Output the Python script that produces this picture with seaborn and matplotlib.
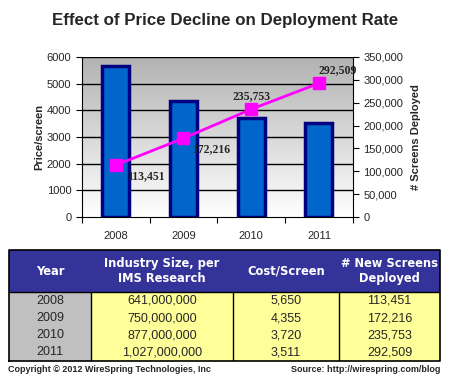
import numpy as np
import pandas as pd
import seaborn as sns
import matplotlib.pyplot as plt

# Data
years = ["2008", "2009", "2010", "2011"]
industry_size = ["641,000,000", "750,000,000", "877,000,000", "1,027,000,000"]
cost_per_screen = [5650, 4355, 3720, 3511]
new_screens = [113451, 172216, 235753, 292509]
headers = ["Year", "Industry Size, per\nIMS Research", "Cost/Screen", "# New Screens\nDeployed"]

df = pd.DataFrame({"year": years, "cost": cost_per_screen, "screens": new_screens})

sns.set_style("white")
plt.rcParams["font.family"] = ["Liberation Sans", "DejaVu Sans"]

fig = plt.figure(figsize=(4.5, 3.8), dpi=100)
fig.text(0.5, 0.945, "Effect of Price Decline on Deployment Rate",
         ha="center", va="center", fontsize=12.2, fontweight="bold")

# Chart
ax = fig.add_axes([0.182, 0.429, 0.602, 0.421])

# gray-to-white gradient background
shade = np.linspace(0.70, 1.0, 256)
grad = np.dstack([shade, shade, shade]).reshape(256, 1, 3)
ax.imshow(grad, extent=[-0.5, 3.5, 0, 6000], aspect="auto", origin="upper", zorder=0)

for yv in range(1000, 7000, 1000):
    ax.axhline(yv, color="black", lw=1, zorder=1)

sns.barplot(data=df, x="year", y="cost", color="#0066CC", width=0.4,
            edgecolor="#000080", linewidth=2.5, saturation=1, ax=ax, zorder=2)
ax.set_xlim(-0.5, 3.5)
ax.set_ylim(0, 6000)
ax.set_yticks(range(0, 7000, 1000))
ax.set_xlabel("")
ax.set_ylabel("Price/screen", fontsize=8, fontweight="bold", labelpad=2)
ax.set_xticks([-0.5, 0.5, 1.5, 2.5, 3.5])
ax.set_xticklabels([])
ax.set_xticks(range(4), minor=True)
ax.set_xticklabels(years, minor=True)
ax.tick_params(axis="x", which="minor", length=0, labelsize=8, pad=10)
ax.tick_params(axis="x", which="major", length=4, direction="out", bottom=True, color="black")
ax.tick_params(axis="y", length=4, direction="out", left=True, labelsize=8, color="black")
for s in ["top", "right"]:
    ax.spines[s].set_visible(False)
ax.spines["left"].set_color("black")
ax.spines["bottom"].set_color("black")

ax2 = ax.twinx()
ax2.set_ylim(0, 350000)
ax2.plot(range(4), df["screens"], color="#FF00FF", lw=2, marker="s",
         markersize=9, zorder=5)
ax2.set_yticks(range(0, 400000, 50000))
ax2.set_yticklabels([f"{v:,}" for v in range(0, 400000, 50000)])
ax2.tick_params(axis="y", length=4, direction="out", right=True, labelsize=8, color="black")
ax2.set_ylabel("# Screens Deployed", fontsize=8, fontweight="bold", labelpad=6)
for s in ["top", "left", "bottom"]:
    ax2.spines[s].set_visible(False)
ax2.spines["right"].set_color("black")

offsets = [(8, -8, "left", "center"), (6, -8, "left", "center"),
           (0, 5, "center", "bottom"), (0, 5, "left", "bottom")]
for i, v in enumerate(new_screens):
    dx, dy, ha, va = offsets[i]
    ax2.annotate(f"{v:,}", (i, v), xytext=(dx, dy), textcoords="offset points",
                 ha=ha, va=va, fontsize=8.5, fontweight="bold",
                 family="Liberation Serif", zorder=6)

# Table
tax = fig.add_axes([0.02, 0.05, 0.958, 0.292])
tax.set_xlim(0, 1)
tax.set_ylim(0, 1)
tax.axis("off")
col_widths = [82, 142, 106, 101]
header_h, row_h = 42, 17
cell_text = [[years[i], industry_size[i], f"{cost_per_screen[i]:,}", f"{new_screens[i]:,}"]
             for i in range(4)]
colours = [["#C0C0C0", "#FFFF99", "#FFFF99", "#FFFF99"] for _ in range(4)]
tbl = tax.table(cellText=cell_text, cellColours=colours, colLabels=headers,
                colColours=["#333399"] * 4, cellLoc="center",
                colWidths=col_widths, bbox=[0, 0, 1, 1])
tbl.auto_set_font_size(False)
for (r, c), cell in tbl.get_celld().items():
    cell.set_linewidth(0)
    if r == 0:
        cell.set_height(header_h)
        cell.get_text().set_color("white")
        cell.get_text().set_fontweight("bold")
        cell.get_text().set_fontsize(8.3)
        cell.get_text().set_family("DejaVu Sans")
    else:
        cell.set_height(row_h)
        cell.get_text().set_fontsize(9)

# table rules: outer border, header underline, column separators in body
body_top = 4 * row_h / (header_h + 4 * row_h)
xs = np.cumsum(col_widths) / sum(col_widths)
tax.plot([0, 1, 1, 0, 0], [0, 0, 1, 1, 0], color="black", lw=1.2, clip_on=False, zorder=10)
tax.plot([0, 1], [body_top, body_top], color="black", lw=1, zorder=10)
for x in xs[:-1]:
    tax.plot([x, x], [0, body_top], color="black", lw=1, zorder=10)

fig.text(0.018, 0.028, "Copyright \u00a9 2012 WireSpring Technologies, Inc",
         ha="left", va="center", fontsize=6.5, fontweight="bold")
fig.text(0.978, 0.028, "Source: http://wirespring.com/blog",
         ha="right", va="center", fontsize=6.5, fontweight="bold")

fig.savefig("out.png", dpi=100)
